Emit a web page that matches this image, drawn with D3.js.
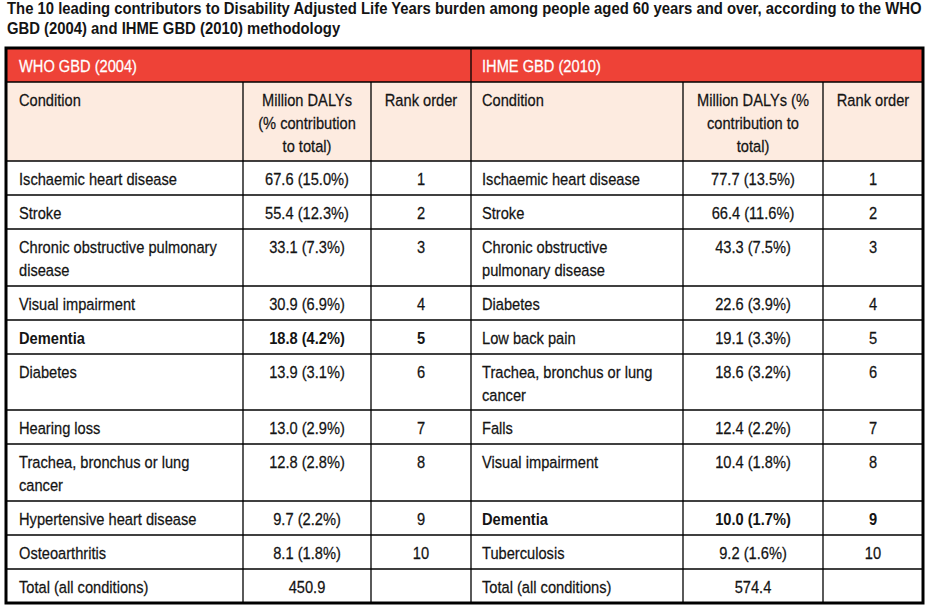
<!DOCTYPE html>
<html><head><meta charset="utf-8">
<script src="https://cdn.jsdelivr.net/npm/d3@7"></script>
<style>
html,body{margin:0;padding:0;background:#fff;}
svg{display:block;}
text{font-family:"Liberation Sans",Arial,sans-serif;}
</style></head>
<body>
<svg id="chart" width="928" height="606"></svg>
<script>
// ---------- data ----------
const titleLines = [
  "The 10 leading contributors to Disability Adjusted Life Years burden among people aged 60 years and over, according to the WHO",
  "GBD (2004) and IHME GBD (2010) methodology"
];
const sectionTitles = ["WHO GBD (2004)", "IHME GBD (2010)"];
const headerLeft = ["Condition", "Million DALYs\n(% contribution\nto total)", "Rank order"];
const headerRight = ["Condition", "Million DALYs (%\ncontribution to\ntotal)", "Rank order"];

const whoConditions = ["Ischaemic heart disease", "Stroke", "Chronic obstructive pulmonary\ndisease", "Visual impairment", "Dementia", "Diabetes", "Hearing loss", "Trachea, bronchus or lung\ncancer", "Hypertensive heart disease", "Osteoarthritis"];
const whoDalys = [67.6, 55.4, 33.1, 30.9, 18.8, 13.9, 13.0, 12.8, 9.7, 8.1];
const whoPct = [15.0, 12.3, 7.3, 6.9, 4.2, 3.1, 2.9, 2.8, 2.2, 1.8];
const whoTotal = 450.9;

const ihmeConditions = ["Ischaemic heart disease", "Stroke", "Chronic obstructive\npulmonary disease", "Diabetes", "Low back pain", "Trachea, bronchus or lung\ncancer", "Falls", "Visual impairment", "Dementia", "Tuberculosis"];
const ihmeDalys = [77.7, 66.4, 43.3, 22.6, 19.1, 18.6, 12.4, 10.4, 10.0, 9.2];
const ihmePct = [13.5, 11.6, 7.5, 3.9, 3.3, 3.2, 2.2, 1.8, 1.7, 1.6];
const ihmeTotal = 574.4;

const ranks = [1, 2, 3, 4, 5, 6, 7, 8, 9, 10];
const totalLabel = "Total (all conditions)";
const highlight = "Dementia";

(function () {
// ---------- layout ----------
const svg = d3.select("#chart");
const RED = "#ee4237", PEACH = "#fdebe0", INK = "#141414";
const FS = 16.5, LH = 23;
const tL = 6, tR = 923, tT = 48;
const colEdges = [6, 243, 371, 471, 683, 823, 923];
const colX = d3.scaleOrdinal().domain(d3.range(6)).range(colEdges.slice(0, 6));
const colW = i => colEdges[i + 1] - colEdges[i];
const align = ["start", "middle", "middle", "start", "middle", "middle"];
const pad = [13, 0, 0, 11, 0, 0];

const fmt = d3.format(".1f");
const lines = s => String(s).split("\n");

const rows = [];
rows.push({type: "section"});
rows.push({type: "header", cells: headerLeft.concat(headerRight)});
ranks.forEach((r, i) => {
  rows.push({type: "body", cells: [
    whoConditions[i], `${fmt(whoDalys[i])} (${fmt(whoPct[i])}%)`, String(ranks[i]),
    ihmeConditions[i], `${fmt(ihmeDalys[i])} (${fmt(ihmePct[i])}%)`, String(ranks[i])
  ], bold: [whoConditions[i] === highlight, ihmeConditions[i] === highlight]});
});
rows.push({type: "body", cells: [totalLabel, fmt(whoTotal), "", totalLabel, fmt(ihmeTotal), ""], bold: [false, false]});

rows.forEach(r => {
  const n = r.type === "section" ? 1 : d3.max(r.cells, c => lines(c).length);
  r.h = 11.5 + 22.5 * n;
});
const ys = [tT].concat(Array.from(d3.cumsum(rows, r => r.h)).map(v => Math.round(tT + v)));
rows.forEach((r, i) => { r.y = ys[i]; });
const bottom = ys[ys.length - 1];

const probe = svg.append("text").attr("font-size", FS).text("Ischaemic heart disease");
const kx = 158 / probe.node().getComputedTextLength();
probe.remove();

function drawText(g, str, x, y, anchor, weight, fill) {
  lines(str).forEach((ln, j) => {
    g.append("text")
      .attr("transform", `translate(${x},${y + j * LH}) scale(${kx},1)`)
      .attr("text-anchor", anchor)
      .attr("font-size", FS)
      .attr("font-weight", weight)
      .attr("fill", fill)
      .attr("stroke", fill).attr("stroke-width", weight === "bold" ? 0 : 0.25)
      .text(ln);
  });
}

// title
const probeB = svg.append("text").attr("font-size", FS).attr("font-weight", "bold").text(titleLines[0]);
const kb = 915 / probeB.node().getComputedTextLength();
probeB.remove();
titleLines.forEach((t, i) => {
  svg.append("text")
    .attr("transform", `translate(7,${13.5 + i * 20}) scale(${kb},1)`)
    .attr("font-size", FS).attr("font-weight", "bold").attr("fill", INK)
    .text(t);
});

// backgrounds
const sec = rows[0], hdr = rows[1];
svg.append("rect").attr("x", tL).attr("y", sec.y).attr("width", tR - tL).attr("height", sec.h).attr("fill", RED);
svg.append("rect").attr("x", tL).attr("y", hdr.y).attr("width", tR - tL).attr("height", hdr.h).attr("fill", PEACH);

// grid lines
const grid = svg.append("g").attr("stroke", "#000").attr("stroke-width", 1.3);
ys.slice(1, -1).forEach(y => grid.append("line").attr("x1", tL).attr("x2", tR).attr("y1", y).attr("y2", y));
grid.append("line").attr("x1", colEdges[3]).attr("x2", colEdges[3]).attr("y1", sec.y).attr("y2", bottom);
[1, 2, 4, 5].forEach(i => grid.append("line").attr("x1", colEdges[i]).attr("x2", colEdges[i]).attr("y1", hdr.y).attr("y2", bottom));

// outer border
svg.append("rect").attr("x", tL).attr("y", tT).attr("width", tR - tL).attr("height", bottom - tT)
  .attr("fill", "none").attr("stroke", "#000").attr("stroke-width", 3);

// texts
const txt = svg.append("g");
sectionTitles.forEach((s, i) => drawText(txt, s, colX(i * 3) + pad[i * 3], sec.y + 24, "start", "normal", "#fff"));
rows.slice(1).forEach(r => {
  r.cells.forEach((c, i) => {
    const a = align[i];
    const x = a === "start" ? colX(i) + pad[i] : colX(i) + colW(i) / 2;
    const b = r.bold && r.bold[i < 3 ? 0 : 1] ? "bold" : "normal";
    drawText(txt, c, x, r.y + 23.5, a, b, INK);
  });
});
})();
</script>
</body></html>
